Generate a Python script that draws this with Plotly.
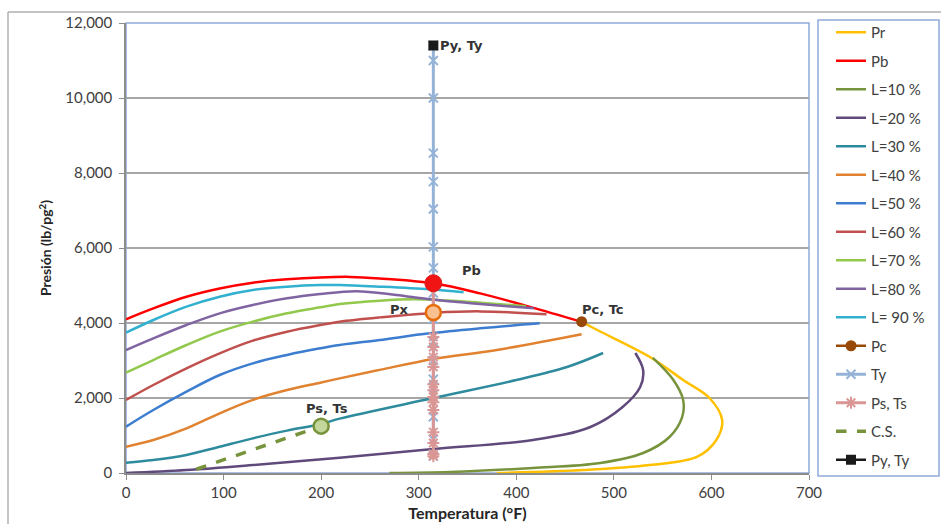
import plotly.graph_objects as go

# Envolvente de fases: curva de rocío (Pr) y curva de burbuja (Pb)
pr_t = [467, 483, 537, 571, 598, 611, 605, 585, 537, 469, 380]
pr_p = [4030, 3813, 3093, 2480, 2000, 1413, 880, 427, 213, 80, 0]

pb_t = [0, 28, 62, 96, 130, 165, 199, 230, 260, 315, 363, 414, 467]
pb_p = [4100, 4390, 4700, 4920, 5075, 5165, 5215, 5230, 5190, 5060, 4790, 4430, 4030]

# Curvas de calidad (porcentaje de líquido)
l10_t = [540, 561, 571, 570, 557, 530, 486, 417, 332, 270]
l10_p = [3070, 2480, 1950, 1490, 960, 533, 267, 133, 27, 0]

l20_t = [0, 62, 130, 219, 315, 417, 476, 509, 527, 530, 522]
l20_p = [0, 80, 213, 410, 640, 880, 1227, 1760, 2293, 2747, 3200]

l30_t = [0, 28, 62, 96, 130, 165, 199, 219, 315, 400, 452, 489]
l30_p = [276, 347, 480, 702, 924, 1130, 1300, 1450, 2000, 2480, 2827, 3200]

l40_t = [0, 28, 62, 96, 130, 165, 199, 219, 260, 315, 380, 467]
l40_p = [700, 880, 1190, 1590, 1950, 2213, 2409, 2524, 2750, 3040, 3280, 3700]

l50_t = [0, 28, 62, 96, 130, 165, 199, 219, 260, 311, 363, 424]
l50_p = [1236, 1680, 2169, 2613, 2924, 3147, 3324, 3413, 3547, 3724, 3858, 3991]

l60_t = [0, 28, 62, 96, 130, 165, 199, 219, 260, 315, 363, 431]
l60_p = [1947, 2347, 2791, 3191, 3529, 3769, 3947, 4036, 4150, 4270, 4310, 4231]

l70_t = [0, 28, 62, 96, 130, 165, 199, 219, 260, 295, 329, 363, 410]
l70_p = [2676, 3013, 3413, 3769, 4036, 4258, 4418, 4507, 4596, 4631, 4600, 4540, 4450]

l80_t = [0, 28, 62, 96, 130, 165, 199, 236, 277, 311, 363, 418]
l80_p = [3280, 3591, 3947, 4258, 4480, 4658, 4773, 4850, 4747, 4631, 4507, 4391]

l90_t = [0, 28, 62, 96, 130, 165, 199, 219, 260, 311, 346]
l90_p = [3742, 4080, 4436, 4702, 4880, 4969, 5013, 5013, 4969, 4898, 4818]

# Punto crítico
pc_t = [467]
pc_p = [4036]

# Trayectoria isotérmica del yacimiento
ty_t = [315] * 17
ty_p = [11400, 11000, 10000, 8530, 7770, 7040, 6030, 5470, 4800, 4100, 3500,
        3000, 2500, 2100, 1500, 900, 450]

ps_t = [315] * 14
ps_p = [5000, 3630, 3360, 3090, 2830, 2370, 2210, 2030, 1890, 1680, 1090,
        800, 510, 450]

# Condiciones de separación (C.S.)
cs_t = [72, 200]
cs_p = [100, 1250]

# Puntos señalados
py_t, py_p = [315], [11400]
pbpt_t, pbpt_p = [315], [5060]
px_t, px_p = [315], [4280]
pst_t, pst_p = [200], [1250]

FONT = "Lato"
LBL = "DejaVu Sans"

fig = go.Figure()


def curve(name, t, p, color, width=2.5, dash=None):
    fig.add_trace(go.Scatter(
        x=t, y=p, name=name, mode="lines", legendgroup=name,
        line=dict(color=color, width=width, shape="spline", smoothing=1.0,
                  dash=dash),
        hoverinfo="skip"))


curve("Pr", pr_t, pr_p, "#FFC000")
curve("Pb", pb_t, pb_p, "#FF0000")
curve("L=10 %", l10_t, l10_p, "#77933C")
curve("L=20 %", l20_t, l20_p, "#604A7B")
curve("L=30 %", l30_t, l30_p, "#2E8B9E")
curve("L=40 %", l40_t, l40_p, "#E0822F")
curve("L=50 %", l50_t, l50_p, "#3C7DD0")
curve("L=60 %", l60_t, l60_p, "#C0504D")
curve("L=70 %", l70_t, l70_p, "#92C84B")
curve("L=80 %", l80_t, l80_p, "#8064A2")
curve("L= 90 %", l90_t, l90_p, "#31B0CF")

fig.add_trace(go.Scatter(
    x=pc_t, y=pc_p, name="Pc", legendgroup="Pc", mode="lines+markers",
    line=dict(color="#984807", width=2.5),
    marker=dict(color="#984807", size=11, symbol="circle"),
    hoverinfo="skip"))

fig.add_trace(go.Scatter(
    x=ty_t, y=ty_p, name="Ty", legendgroup="Ty", mode="lines+markers",
    line=dict(color="#95B3D7", width=3),
    marker=dict(color="#95B3D7", size=9, symbol="x-thin-open",
                line=dict(color="#95B3D7", width=2)),
    hoverinfo="skip"))

fig.add_trace(go.Scatter(
    x=ps_t, y=ps_p, name="Ps, Ts", legendgroup="Ps, Ts", mode="lines+markers",
    line=dict(color="#D99694", width=3),
    marker=dict(color="#D99694", size=10, symbol="asterisk-open",
                line=dict(color="#D99694", width=2)),
    hoverinfo="skip"))

fig.add_trace(go.Scatter(
    x=cs_t, y=cs_p, name="C.S.", legendgroup="C.S.", mode="lines",
    line=dict(color="#77933C", width=3.5, dash="dash"),
    hoverinfo="skip"))

fig.add_trace(go.Scatter(
    x=py_t, y=py_p, name="Py, Ty", legendgroup="Py, Ty", mode="lines+markers",
    line=dict(color="#1A1A1A", width=2.5),
    marker=dict(color="#1A1A1A", size=10, symbol="square"),
    hoverinfo="skip"))

# Marcadores de los puntos Pb, Px y Ps
fig.add_trace(go.Scatter(
    x=pbpt_t, y=pbpt_p, mode="markers", showlegend=False,
    marker=dict(color="#F01414", size=17, line=dict(color="#E02020", width=1)),
    hoverinfo="skip"))
fig.add_trace(go.Scatter(
    x=px_t, y=px_p, mode="markers", showlegend=False,
    marker=dict(color="#FAC090", size=15, line=dict(color="#E46C0A", width=2.5)),
    hoverinfo="skip"))
fig.add_trace(go.Scatter(
    x=pst_t, y=pst_p, mode="markers", showlegend=False,
    marker=dict(color="#C3D69B", size=15, line=dict(color="#77933C", width=2.5)),
    hoverinfo="skip"))

# Etiquetas de los puntos
labels = [
    ("Py, Ty", 320, 11390, "left"),
    ("Pb", 354, 5413, "center"),
    ("Px", 280, 4373, "center"),
    ("Pc, Tc", 465, 4347, "left"),
    ("Ps, Ts", 206, 1707, "center"),
]
for text, x, y, xa in labels:
    fig.add_annotation(x=x, y=y, text="<b>%s</b>" % text, showarrow=False,
                       xanchor=xa, yanchor="middle",
                       font=dict(family=LBL, size=13, color="#333333"))

W, H = 941, 524
L, R, T, B = 126, 132, 23, 51
PW, PH = W - L - R, H - T - B


def px_x(v):
    return (v - L) / PW


def px_y(v):
    return (H - B - v) / PH


shapes = [
    # borde del área de trazado
    dict(type="rect", xref="paper", yref="paper", x0=0, x1=1, y0=0, y1=1,
         line=dict(color="#8EAADB", width=1.5), layer="below"),
    # recuadro de la leyenda
    dict(type="rect", xref="paper", yref="paper", x0=px_x(818), x1=px_x(939),
         y0=px_y(476), y1=px_y(20), line=dict(color="#8EAADB", width=1.5)),
    # marco del gráfico (lados izquierdo y superior)
    dict(type="line", xref="paper", yref="paper", x0=px_x(8), x1=px_x(960),
         y0=px_y(12), y1=px_y(12), line=dict(color="#B0B0B0", width=1.5),
         layer="below"),
    dict(type="line", xref="paper", yref="paper", x0=px_x(8), x1=px_x(8),
         y0=px_y(530), y1=px_y(12), line=dict(color="#B0B0B0", width=1.5),
         layer="below"),
]

fig.update_layout(
    width=W, height=H,
    margin=dict(l=L, r=R, t=T, b=B, autoexpand=False),
    paper_bgcolor="white", plot_bgcolor="white",
    font=dict(family=FONT, size=15, color="#404040"),
    shapes=shapes,
    showlegend=True,
    legend=dict(x=px_x(831), y=1 - 16 / H, yref="container",
                xanchor="left", yanchor="top",
                bgcolor="rgba(0,0,0,0)", borderwidth=0,
                tracegroupgap=6, traceorder="grouped", maxheight=1.0,
                font=dict(family=FONT, size=15, color="#404040")),
    xaxis=dict(range=[0, 700], dtick=100, showgrid=False, zeroline=False,
               automargin=False,
               showline=True, linecolor="#8C8C8C", linewidth=1.5,
               ticks="outside", ticklen=5, tickcolor="#8C8C8C",
               tickfont=dict(family=FONT, size=15, color="#404040"),
               title=dict(text="<b>Temperatura (°F)</b>", standoff=8,
                          font=dict(family=FONT, size=16, color="#262626"))),
    yaxis=dict(range=[0, 12000], dtick=2000, tickformat=",", showgrid=True,
               automargin=False,
               gridcolor="#A6A6A6", gridwidth=1.5, zeroline=False,
               showline=True, linecolor="#8C8C8C", linewidth=1.5,
               ticks="outside", ticklen=5, tickcolor="#8C8C8C",
               ticklabelstandoff=4,
               tickfont=dict(family=FONT, size=15, color="#404040"),
               title=dict(text="<b>Presión (lb/pg<sup>2</sup>)</b>", standoff=10,
                          font=dict(family=FONT, size=14, color="#262626"))),
)

fig.write_html("out.html")
